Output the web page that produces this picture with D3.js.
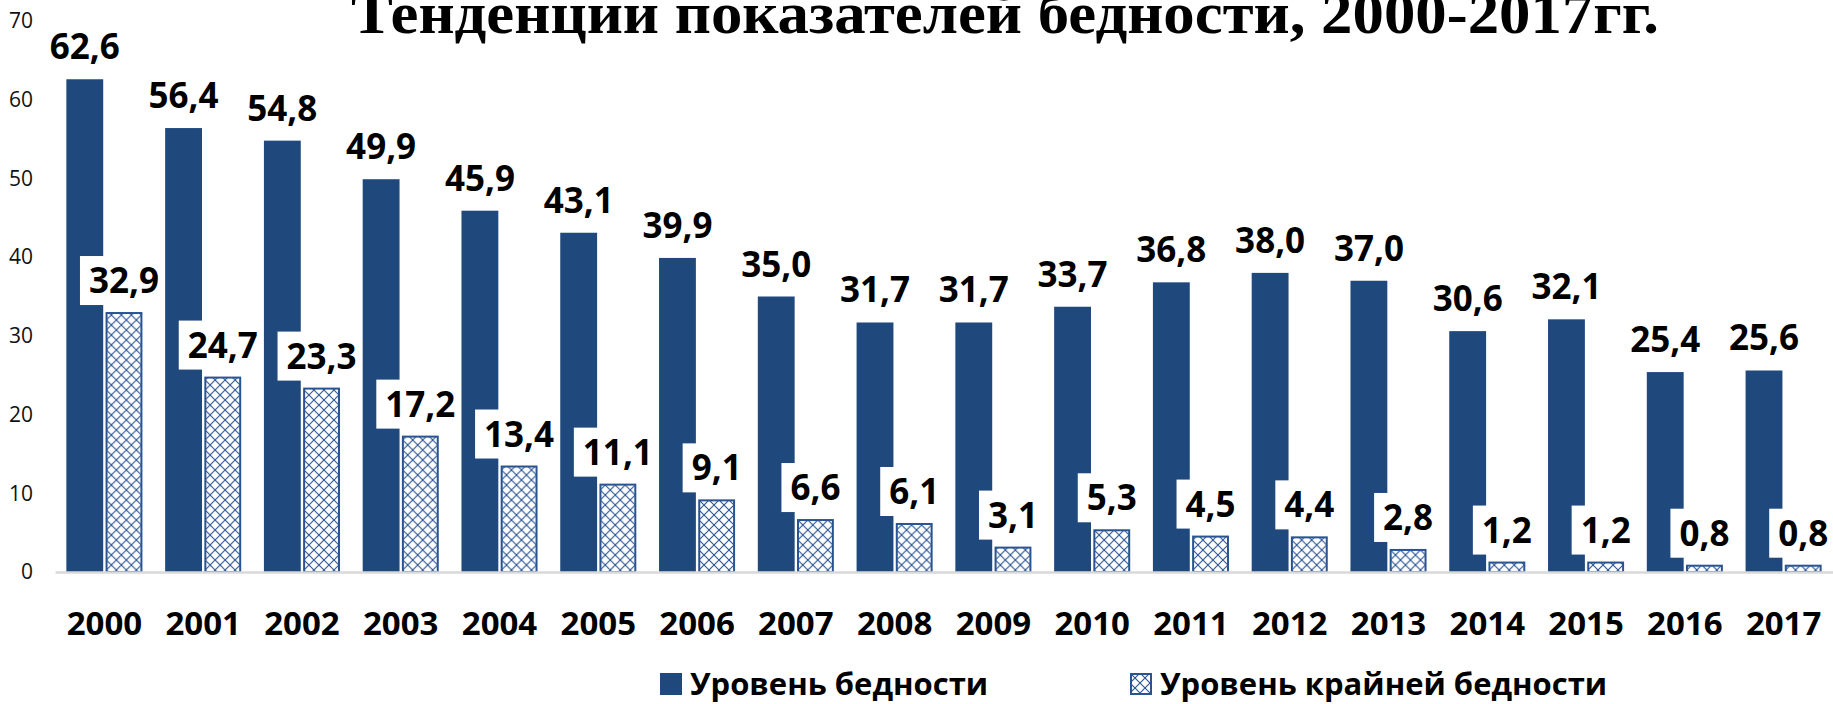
<!DOCTYPE html>
<html>
<head>
<meta charset="utf-8">
<script src="https://cdn.jsdelivr.net/npm/d3@7"></script>
<style>
  body { margin: 0; background: #fff; }
  svg { display: block; }
  .title { font-family: "Liberation Serif", "Times New Roman", serif; font-weight: bold; }
  .yaxis text { font-family: "Open Sans", sans-serif; font-size: 21px; fill: #111; }
  .xaxis text { font-family: "Open Sans", sans-serif; font-size: 33px; font-weight: bold; fill: #000; }
  .label { font-family: "Open Sans", sans-serif; font-size: 35px; font-weight: bold; fill: #000; }
  .legend text { font-family: "Open Sans", sans-serif; font-size: 31px; font-weight: bold; fill: #000; }
</style>
</head>
<body>
<svg width="1833" height="704"></svg>
<script>
// data
const years = ["2000", "2001", "2002", "2003", "2004", "2005", "2006", "2007", "2008",
  "2009", "2010", "2011", "2012", "2013", "2014", "2015", "2016", "2017"]
const poverty = [62.6, 56.4, 54.8, 49.9, 45.9, 43.1, 39.9, 35.0, 31.7,
  31.7, 33.7, 36.8, 38.0, 37.0, 30.6, 32.1, 25.4, 25.6]
const extreme = [32.9, 24.7, 23.3, 17.2, 13.4, 11.1, 9.1, 6.6, 6.1,
  3.1, 5.3, 4.5, 4.4, 2.8, 1.2, 1.2, 0.8, 0.8]
const yTicks = [0, 10, 20, 30, 40, 50, 60, 70]
const seriesNames = ["Уровень бедности", "Уровень крайней бедности"]
const titleText = "Тенденции показателей бедности, 2000-2017гг."

const dark = "#1f497d"
const hatchColor = "#2a5491"

const svg = d3.select("svg")

// hatch pattern for the second series
const pattern = svg.append("defs")
  .append("pattern")
  .attr("id", "hatch")
  .attr("patternUnits", "userSpaceOnUse")
  .attr("width", 10)
  .attr("height", 10)
pattern.append("rect").attr("width", 10).attr("height", 10).attr("fill", "#fff")
pattern.append("path")
  .attr("d", "M0,0L10,10M10,0L0,10")
  .attr("stroke", hatchColor)
  .attr("stroke-width", 1.1)

// scales
const x0 = d3.scaleBand()
  .domain(years)
  .range([55, 1833])
  .paddingInner(0.23)
  .paddingOuter(0.115)

const x1 = d3.scaleBand()
  .domain([0, 1])
  .range([0, x0.bandwidth()])
  .paddingInner(0.06)

const y = d3.scaleLinear()
  .domain([0, 70])
  .range([572, 21])

// title, its top runs off the page like in the original
svg.append("text")
  .attr("class", "title")
  .attr("x", 351)
  .attr("y", 33)
  .style("font-size", "59px")
  .attr("textLength", 1308)
  .attr("lengthAdjust", "spacingAndGlyphs")
  .text(titleText)

// y axis, numbers only
const yAxis = svg.append("g")
  .attr("class", "yaxis")
  .attr("transform", "translate(33,0)")
  .call(d3.axisLeft(y).tickValues(yTicks).tickSize(0).tickPadding(0))
yAxis.select(".domain").remove()

// bar groups
const groups = svg.selectAll("g.year")
  .data(years)
  .enter()
  .append("g")
  .attr("class", "year")
  .attr("transform", d => `translate(${x0(d)},0)`)

groups.append("rect")
  .attr("x", x1(0))
  .attr("y", (d, i) => y(poverty[i]))
  .attr("width", x1.bandwidth())
  .attr("height", (d, i) => y(0) - y(poverty[i]))
  .attr("fill", dark)

groups.append("rect")
  .attr("x", x1(1) + 1)
  .attr("y", (d, i) => y(extreme[i]))
  .attr("width", x1.bandwidth() - 2)
  .attr("height", (d, i) => y(0) - y(extreme[i]))
  .attr("fill", "url(#hatch)")
  .attr("stroke", hatchColor)
  .attr("stroke-width", 2)

// x axis
const xAxis = svg.append("g")
  .attr("class", "xaxis")
  .attr("transform", `translate(0,${y(0)})`)
  .call(d3.axisBottom(x0).tickSize(0).tickSizeOuter(0))
xAxis.select(".domain").attr("stroke", "#d9d9d9").attr("stroke-width", 2.5)
xAxis.selectAll("text").attr("y", 63).attr("dy", 0)

const fmt = v => v.toFixed(1).replace(".", ",")

// labels for the extreme series sit in white boxes over the dark bars
const exLabels = groups.append("g")
exLabels.append("rect").attr("fill", "#fff")
exLabels.append("text")
  .attr("class", "label")
  .attr("x", x1(1) + x1.bandwidth() / 2)
  .attr("y", (d, i) => y(extreme[i]) - 20)
  .attr("text-anchor", "middle")
  .text((d, i) => fmt(extreme[i]))
exLabels.each(function (d, i) {
  const g = d3.select(this)
  const w = g.select("text").node().getComputedTextLength() + 18
  const cx = x1(1) + x1.bandwidth() / 2
  const base = y(extreme[i]) - 20
  g.select("rect")
    .attr("x", cx - w / 2)
    .attr("y", base - 37)
    .attr("width", w)
    .attr("height", 49)
})

// labels for the main series
groups.append("text")
  .attr("class", "label")
  .attr("x", x1(0) + x1.bandwidth() / 2)
  .attr("y", (d, i) => y(poverty[i]) - 20)
  .attr("text-anchor", "middle")
  .text((d, i) => fmt(poverty[i]))

// legend
const legendX = [660, 1130]
const legend = svg.selectAll("g.legend")
  .data(seriesNames)
  .enter()
  .append("g")
  .attr("class", "legend")
  .attr("transform", (d, i) => `translate(${legendX[i]},673)`)

legend.append("rect")
  .attr("x", (d, i) => i ? 1 : 0)
  .attr("y", (d, i) => i ? 1 : 0)
  .attr("width", (d, i) => i ? 20 : 22)
  .attr("height", (d, i) => i ? 20 : 22)
  .attr("fill", (d, i) => i ? "url(#hatch)" : dark)
  .attr("stroke", (d, i) => i ? hatchColor : "none")
  .attr("stroke-width", 2)

legend.append("text")
  .attr("x", 30)
  .attr("y", 22)
  .text(d => d)
</script>
</body>
</html>
